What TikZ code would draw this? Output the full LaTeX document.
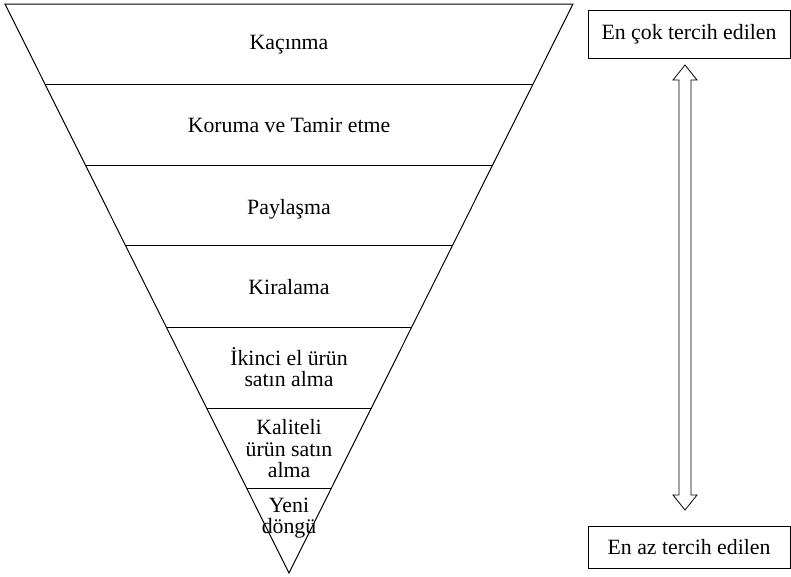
\documentclass[tikz,border=0pt]{standalone}
\usepackage{fontspec}
\setmainfont{Liberation Serif}
\usetikzlibrary{calc}

\tikzset{
	katman/.style={font=\fontsize{21.8}{21.5}\selectfont, align=center, inner sep=1pt},
	kutu/.style={draw, line width=0.8pt, font=\fontsize{21.8}{21.5}\selectfont, minimum width=202, inner sep=2pt}
}

\begin{document}
\begin{tikzpicture}[x=1pt,y=-1pt]
	\useasboundingbox (0,0) rectangle (791,576);
	\coordinate (tl) at (5,4);
	\coordinate (tr) at (573,4);
	\coordinate (ap) at (289,573);
	\draw[line width=1pt] (tl)--(tr)--(ap)--cycle;
	\foreach \y in {84,165,246,327,408,488}
		\draw[line width=1pt] ($(tl)!{(\y-4)/569}!(ap)$)--($(tr)!{(\y-4)/569}!(ap)$);
	\node[katman] (kacinma) at (289,45) {Kaçınma};
	\node[katman] (koruma) at (289,125) {Koruma ve Tamir etme};
	\node[katman] (paylasma) at (289,209) {Paylaşma};
	\node[katman] (kiralama) at (289,287) {Kiralama};
	\node[katman] (ikinciel) at (289,367) {İkinci el ürün\\satın alma};
	\node[katman] (kaliteli) at (289,449) {Kaliteli\\ürün satın\\alma};
	\node[katman] (yenidongu) at (289,518) {Yeni\\döngü};
	\node[kutu, minimum height=48] (encok) at (689,34) {En çok tercih edilen};
	\node[kutu, minimum height=42] (enaz) at (689,547) {En az tercih edilen};
	\draw[line width=0.8pt] (685,65)--(697,80)--(691,80)--(691,495)--(697,495)--(685,510)
		--(673,495)--(679,495)--(679,80)--(673,80)--cycle;
\end{tikzpicture}
\end{document}
